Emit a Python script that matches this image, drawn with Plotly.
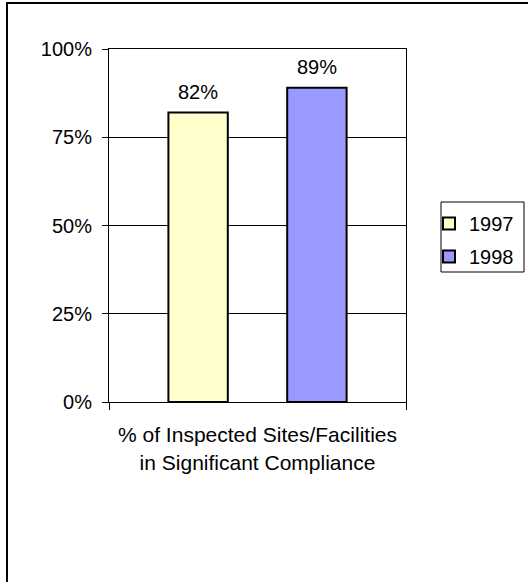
import plotly.graph_objects as go

categories = ["% of Inspected Sites/Facilities<br>in Significant Compliance"]
series_names = ["1997", "1998"]
values_1997 = [0.82]
values_1998 = [0.89]
y_tick_vals = [0, 0.25, 0.5, 0.75, 1.0]
y_tick_text = ["0%", "25%", "50%", "75%", "100%"]
colors = ["#FFFFCC", "#9999FF"]

W, H = 528, 582
L, R, T, B = 109, 122, 49, 180
pw, ph = W - L - R, H - T - B

FONT = "Liberation Sans, Arial, sans-serif"
FS = 20


def px_x(p):
    return (p - L) / pw


def px_y(p):
    return (H - B - p) / ph


fig = go.Figure()
series = [values_1997, values_1998]
slot = 0.8 * pw / 2
annotations = []
for i, (name, vals, col) in enumerate(zip(series_names, series, colors)):
    fig.add_trace(go.Bar(
        x=categories, y=vals, name=name, legendgroup=name,
        marker=dict(color=col, line=dict(color="black", width=2)),
    ))
    for c, v in zip(categories, vals):
        annotations.append(dict(
            x=c, y=v, xref="x", yref="y", text=f"{v*100:.0f}%", showarrow=False,
            xshift=(i - 0.5) * slot, yshift=21, yanchor="middle",
            font=dict(family=FONT, size=FS, color="black"),
        ))

fig.update_layout(
    width=W, height=H,
    margin=dict(l=L, r=R, t=T, b=B, autoexpand=False),
    paper_bgcolor="white", plot_bgcolor="white",
    barmode="group", bargap=0.2, bargroupgap=0.5,
    font=dict(family=FONT, size=FS, color="black"),
    showlegend=True,
    legend=dict(x=px_x(429), y=px_y(204), xanchor="left", yanchor="top",
                borderwidth=0, bgcolor="rgba(0,0,0,0)",
                font=dict(family=FONT, size=FS, color="black"),
                itemwidth=30, tracegroupgap=4),
    xaxis=dict(showline=True, linecolor="black", linewidth=1, mirror=True,
               ticks="outside", tickson="boundaries", ticklen=7, tickcolor="black",
               ticklabelstandoff=14,
               tickfont=dict(family=FONT, size=21, color="black"), showgrid=False),
    yaxis=dict(range=[0, 1], tickvals=y_tick_vals, ticktext=y_tick_text,
               showline=True, linecolor="black", linewidth=1, mirror=True,
               ticks="outside", ticklen=6, tickcolor="black", ticklabelstandoff=6,
               showgrid=True, gridcolor="black", gridwidth=1,
               tickfont=dict(family=FONT, size=FS, color="black"), zeroline=False),
    annotations=annotations,
    shapes=[
        dict(type="rect", xref="paper", yref="paper",
             x0=px_x(7), x1=px_x(W + 20), y0=px_y(H + 20), y1=px_y(3),
             line=dict(color="black", width=2), fillcolor="rgba(0,0,0,0)", layer="above"),
        dict(type="rect", xref="paper", yref="paper",
             x0=px_x(441), x1=px_x(524), y0=px_y(272), y1=px_y(202),
             line=dict(color="black", width=1), fillcolor="rgba(0,0,0,0)", layer="above"),
    ],
)

fig.write_html("out.html", config={"displayModeBar": False},
               post_script="document.body.style.margin='0';")
